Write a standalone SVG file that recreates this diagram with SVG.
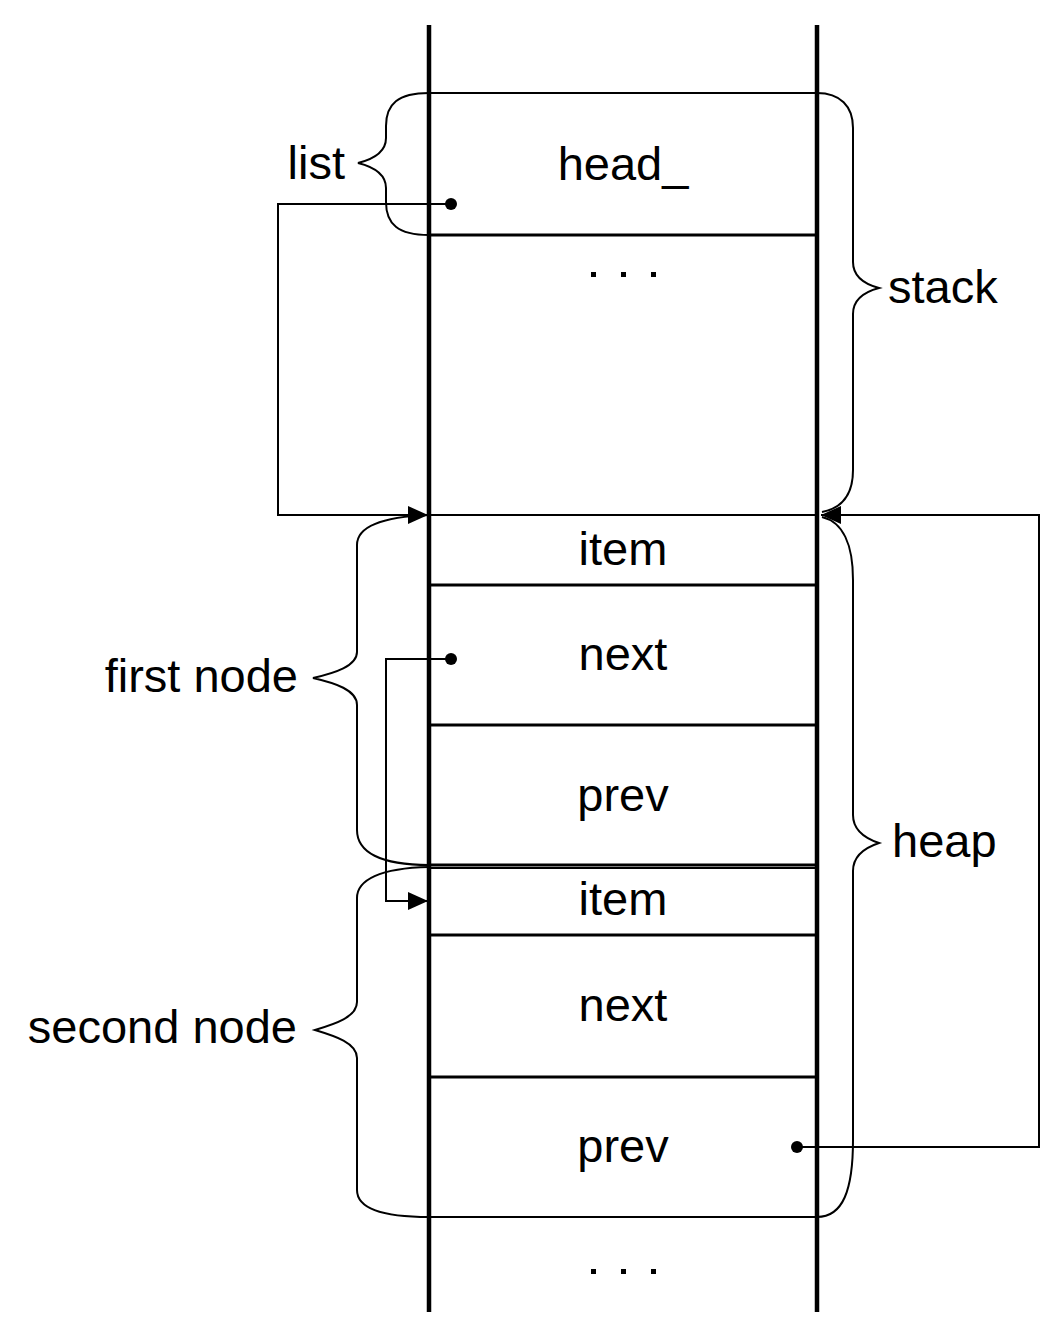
<svg xmlns="http://www.w3.org/2000/svg" width="1063" height="1336" viewBox="0 0 1063 1336">
<style>
  .t { font-family: "Liberation Sans", Arial, sans-serif; font-size: 47px; fill: #000; }
  .c { text-anchor: middle; }
  .e { text-anchor: end; }
  .wall { stroke: #000; stroke-width: 4.5; fill: none; }
  .sep { stroke: #000; stroke-width: 3; fill: none; }
  .thin { stroke: #000; stroke-width: 2; fill: none; }
  .brace { stroke: #000; stroke-width: 2; fill: none; }
  .conn { stroke: #000; stroke-width: 2; fill: none; }
</style>
<defs>
  <marker id="arr" viewBox="0 0 20 18" refX="20" refY="9" markerWidth="20" markerHeight="18" markerUnits="userSpaceOnUse" orient="auto">
    <path d="M0,0 L20,9 L0,18 Z" fill="#000"/>
  </marker>
</defs>
<rect width="1063" height="1336" fill="#fff"/>

<g id="memory">
  <line class="thin" x1="429" y1="93" x2="817" y2="93"/>
  <line class="sep" x1="429" y1="235" x2="817" y2="235"/>
  <line class="thin" x1="429" y1="515" x2="817" y2="515"/>
  <line class="sep" x1="429" y1="585" x2="817" y2="585"/>
  <line class="sep" x1="429" y1="725" x2="817" y2="725"/>
  <line class="sep" x1="429" y1="865" x2="817" y2="865"/>
  <line class="thin" x1="429" y1="868" x2="817" y2="868"/>
  <line class="sep" x1="429" y1="935" x2="817" y2="935"/>
  <line class="sep" x1="429" y1="1077" x2="817" y2="1077"/>
  <line class="thin" x1="429" y1="1217" x2="817" y2="1217"/>
  <line class="wall" x1="429" y1="25" x2="429" y2="1312"/>
  <line class="wall" x1="817" y1="25" x2="817" y2="1312"/>
</g>

<g id="head">
  <text class="t c" x="623" y="180">head_</text>
</g>
<g id="ellipsis-top">
  <rect x="591" y="272" width="5" height="5"/>
  <rect x="621" y="272" width="5" height="5"/>
  <rect x="651" y="272" width="5" height="5"/>
</g>
<g id="node1-item"><text class="t c" x="623" y="565">item</text></g>
<g id="node1-next"><text class="t c" x="623" y="670">next</text></g>
<g id="node1-prev"><text class="t c" x="623" y="811">prev</text></g>
<g id="node2-item"><text class="t c" x="623" y="915">item</text></g>
<g id="node2-next"><text class="t c" x="623" y="1021">next</text></g>
<g id="node2-prev"><text class="t c" x="623" y="1162">prev</text></g>
<g id="ellipsis-bottom">
  <rect x="591" y="1269" width="5" height="5"/>
  <rect x="621" y="1269" width="5" height="5"/>
  <rect x="651" y="1269" width="5" height="5"/>
</g>

<g id="list-brace">
  <path class="brace" d="M429,93 C398,93 386,104 386,126 L386,138 C386,152 374,159 358,163 C374,167 386,174 386,188 L386,202 C386,224 398,235 429,235"/>
  <text class="t e" x="345" y="179">list</text>
</g>
<g id="stack-brace">
  <path class="brace" d="M817,93 C840,93 853,106 853,128 L853,262 C853,276 864,284 879,288 C864,292 853,300 853,314 L853,470 C853,494 843,508 822,512"/>
  <text class="t" x="888" y="303">stack</text>
</g>
<g id="heap-brace">
  <path class="brace" d="M822,517 C843,522 853,545 853,580 L853,815 C853,830 864,838 879,843 C864,848 853,856 853,871 L853,1140 C853,1190 843,1217 817,1217"/>
  <text class="t" x="892" y="857">heap</text>
</g>
<g id="first-node-brace">
  <path class="brace" d="M429,515 C378,517 357,528 357,545 L357,652 C357,666 335,673 313,678 C335,683 357,690 357,705 L357,830 C357,852 380,865 429,865"/>
  <text class="t e" x="298" y="692">first node</text>
</g>
<g id="second-node-brace">
  <path class="brace" d="M429,867 C380,868 357,880 357,898 L357,1002 C357,1017 335,1024 315,1030 C335,1036 357,1043 357,1058 L357,1190 C357,1207 378,1217 429,1217"/>
  <text class="t e" x="297" y="1043">second node</text>
</g>

<g id="connectors">
  <circle cx="451" cy="204" r="6"/>
  <path class="conn" d="M451,204 L278,204 L278,515 L428,515" marker-end="url(#arr)"/>
  <circle cx="451" cy="659" r="6"/>
  <path class="conn" d="M451,659 L386,659 L386,901 L428,901" marker-end="url(#arr)"/>
  <circle cx="797" cy="1147" r="6"/>
  <path class="conn" d="M797,1147 L1039,1147 L1039,515 L821,515" marker-end="url(#arr)"/>
</g>
</svg>
